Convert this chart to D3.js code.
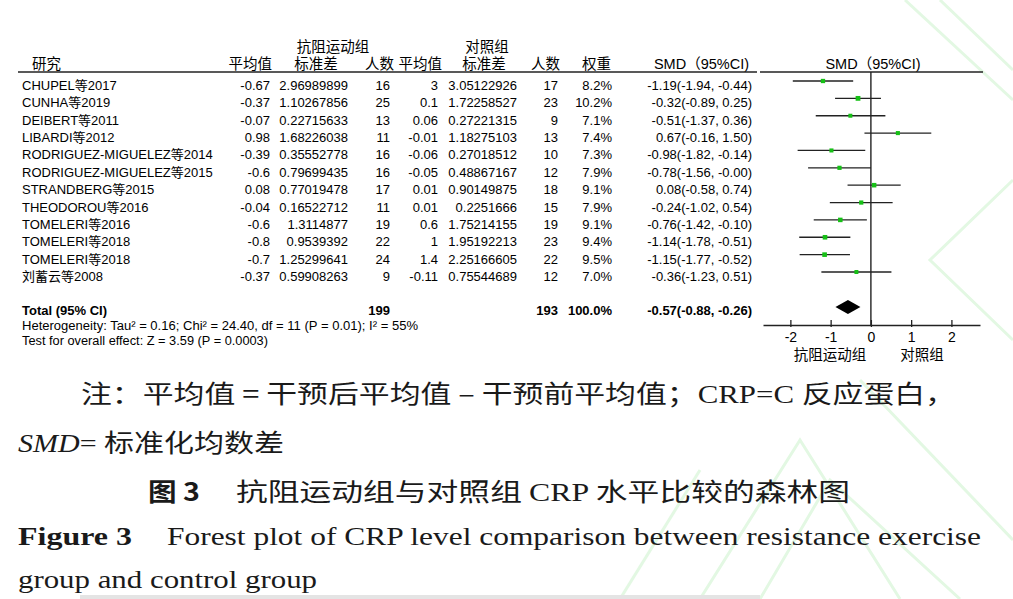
<!DOCTYPE html>
<html>
<head>
<meta charset="utf-8">
<script src="https://cdn.jsdelivr.net/npm/d3@7/dist/d3.min.js"></script>
<style>
body { margin: 0; background: #fff; }
svg { display: block; }
.tbl { font-family: "Liberation Sans", Arial, "Noto Sans CJK SC", sans-serif; font-size: 13px; fill: #000; }
.hd { font-size: 14.5px; }
.cap { font-family: "Liberation Serif", "Times New Roman", "Noto Sans CJK SC", serif; font-size: 25px; fill: #1a1a1a; }
</style>
</head>
<body>
<svg id="chart" width="1013" height="599"></svg>
<script>
// study rows
var studies = ["CHUPEL等2017", "CUNHA等2019", "DEIBERT等2011", "LIBARDI等2012",
  "RODRIGUEZ-MIGUELEZ等2014", "RODRIGUEZ-MIGUELEZ等2015", "STRANDBERG等2015",
  "THEODOROU等2016", "TOMELERI等2016", "TOMELERI等2018", "TOMELERI等2018", "刘蓄云等2008"];
var expMean = [-0.67, -0.37, -0.07, 0.98, -0.39, -0.6, 0.08, -0.04, -0.6, -0.8, -0.7, -0.37];
var expSD = [2.96989899, 1.10267856, 0.22715633, 1.68226038, 0.35552778, 0.79699435, 0.77019478, 0.16522712, 1.3114877, 0.9539392, 1.25299641, 0.59908263];
var expN = [16, 25, 13, 11, 16, 16, 17, 11, 19, 22, 24, 9];
var ctlMean = [3, 0.1, 0.06, -0.01, -0.06, -0.05, 0.01, 0.01, 0.6, 1, 1.4, -0.11];
var ctlSD = [3.05122926, 1.72258527, 0.27221315, 1.18275103, 0.27018512, 0.48867167, 0.90149875, 0.2251666, 1.75214155, 1.95192213, 2.25166605, 0.75544689];
var ctlN = [17, 23, 9, 13, 10, 12, 18, 15, 19, 23, 22, 12];
var weights = [8.2, 10.2, 7.1, 7.4, 7.3, 7.9, 9.1, 7.9, 9.1, 9.4, 9.5, 7.0];
var smd = [-1.19, -0.32, -0.51, 0.67, -0.98, -0.78, 0.08, -0.24, -0.76, -1.14, -1.15, -0.36];
var ciLo = [-1.94, -0.89, -1.37, -0.16, -1.82, -1.56, -0.58, -1.02, -1.42, -1.78, -1.77, -1.23];
var ciHi = [-0.44, 0.25, 0.36, 1.50, -0.14, -0.00, 0.74, 0.54, -0.10, -0.51, -0.52, 0.51];
// pooled
var totalN = [199, 193];
var totalWeight = "100.0%";
var totalSmd = [-0.57, -0.88, -0.26];
var hetText = "Heterogeneity: Tau² = 0.16; Chi² = 24.40, df = 11 (P = 0.01); I² = 55%";
var testText = "Test for overall effect: Z = 3.59 (P = 0.0003)";
var axisTicks = [-2, -1, 0, 1, 2];

var svg = d3.select("#chart");
svg.append("rect").attr("width", 1013).attr("height", 599).attr("fill", "#fff");

// faint watermark strokes
var wm = [
  [[905, 0], [1013, 100]], [[940, 0], [1013, 70]],
  [[1013, 180], [930, 260], [1013, 340]],
  [[700, 599], [800, 440], [900, 599]], [[760, 599], [830, 480], [960, 599]],
  [[860, 380], [1013, 540]], [[620, 599], [700, 470]]
];
svg.selectAll("path.wm").data(wm).enter().append("path")
  .attr("class", "wm")
  .attr("d", d3.line())
  .attr("fill", "none").attr("stroke", "#e3f8e3").attr("stroke-width", 3);

function fmt(v) {
  return (v < 0 || Object.is(v, -0)) ? "-" + Math.abs(v).toFixed(2) : v.toFixed(2);
}

var rowY = d3.scaleLinear().domain([0, 11]).range([81, 272]);
var x = d3.scaleLinear().domain([-2.68, 2.71]).range([763, 980]);

// header
var g = svg.append("g").attr("class", "tbl");
g.append("text").attr("class", "hd").attr("x", 333).attr("y", 52).attr("text-anchor", "middle").text("抗阻运动组");
g.append("text").attr("class", "hd").attr("x", 487).attr("y", 52).attr("text-anchor", "middle").text("对照组");
var heads = [["研究", 32, "start"], ["平均值", 272, "end"], ["标准差", 316, "middle"], ["人数", 394, "end"],
  ["平均值", 442, "end"], ["标准差", 484, "middle"], ["人数", 560, "end"], ["权重", 611, "end"],
  ["SMD（95%CI)", 749, "end"]];
g.selectAll("text.h").data(heads).enter().append("text")
  .attr("class", "hd")
  .attr("x", function(d) { return d[1]; }).attr("y", 69)
  .attr("text-anchor", function(d) { return d[2]; })
  .text(function(d) { return d[0]; });
g.append("text").attr("class", "hd").attr("x", 873).attr("y", 69).attr("text-anchor", "middle").text("SMD（95%CI)");
svg.append("line").attr("x1", 18).attr("x2", 757).attr("y1", 72).attr("y2", 72).attr("stroke", "#222").attr("stroke-width", 1.3);
svg.append("line").attr("x1", 760).attr("x2", 983).attr("y1", 72).attr("y2", 72).attr("stroke", "#222").attr("stroke-width", 1.3);

// rows
var cols = [
  [function(i) { return studies[i]; }, 22, "start"],
  [function(i) { return String(expMean[i]); }, 270, "end"],
  [function(i) { return String(expSD[i]); }, 348, "end"],
  [function(i) { return String(expN[i]); }, 390, "end"],
  [function(i) { return String(ctlMean[i]); }, 438, "end"],
  [function(i) { return String(ctlSD[i]); }, 517, "end"],
  [function(i) { return String(ctlN[i]); }, 558, "end"],
  [function(i) { return weights[i].toFixed(1) + "%"; }, 612, "end"],
  [function(i) { return fmt(smd[i]) + "(" + fmt(ciLo[i]) + ", " + fmt(ciHi[i]) + ")"; }, 752, "end"]
];
var rows = g.selectAll("g.row").data(d3.range(studies.length)).enter().append("g")
  .attr("transform", function(i) { return "translate(0," + (rowY(i) + 9) + ")"; });
cols.forEach(function(c) {
  rows.append("text").attr("x", c[1]).attr("text-anchor", c[2]).text(function(i) { return c[0](i); });
});

// total row
var ty = 315;
var tg = svg.append("g").attr("class", "tbl").style("font-weight", "bold");
tg.append("text").attr("x", 22).attr("y", ty).text("Total (95% CI)");
tg.append("text").attr("x", 390).attr("y", ty).attr("text-anchor", "end").text(totalN[0]);
tg.append("text").attr("x", 558).attr("y", ty).attr("text-anchor", "end").text(totalN[1]);
tg.append("text").attr("x", 612).attr("y", ty).attr("text-anchor", "end").text(totalWeight);
tg.append("text").attr("x", 752).attr("y", ty).attr("text-anchor", "end")
  .text(fmt(totalSmd[0]) + "(" + fmt(totalSmd[1]) + ", " + fmt(totalSmd[2]) + ")");
svg.append("text").attr("class", "tbl").style("font-size", "12px")
  .attr("x", 22).attr("y", 330).attr("textLength", 396).attr("lengthAdjust", "spacingAndGlyphs").text(hetText);
svg.append("text").attr("class", "tbl").style("font-size", "12px")
  .attr("x", 22).attr("y", 345).attr("textLength", 246).attr("lengthAdjust", "spacingAndGlyphs").text(testText);

// forest
var axY = 325;
var fg = svg.append("g");
fg.append("line").attr("x1", x(0)).attr("x2", x(0)).attr("y1", 72).attr("y2", axY).attr("stroke", "#222").attr("stroke-width", 1.4);
fg.selectAll("line.ci").data(d3.range(studies.length)).enter().append("line")
  .attr("x1", function(i) { return x(ciLo[i]); })
  .attr("x2", function(i) { return x(ciHi[i]); })
  .attr("y1", function(i) { return rowY(i); })
  .attr("y2", function(i) { return rowY(i); })
  .attr("stroke", "#222").attr("stroke-width", 1.3);
var half = function(i) { return Math.sqrt(weights[i]) * 0.75; };
fg.selectAll("rect.pt").data(d3.range(studies.length)).enter().append("rect")
  .attr("x", function(i) { return x(smd[i]) - half(i); })
  .attr("y", function(i) { return rowY(i) - half(i); })
  .attr("width", function(i) { return half(i) * 2; })
  .attr("height", function(i) { return half(i) * 2; })
  .attr("fill", "#16c016");
var dy = 307;
fg.append("path")
  .attr("d", "M" + x(totalSmd[1]) + "," + dy + "L" + x(totalSmd[0]) + "," + (dy - 7) +
    "L" + x(totalSmd[2]) + "," + dy + "L" + x(totalSmd[0]) + "," + (dy + 7) + "Z")
  .attr("fill", "#000");

var ax = fg.append("g").attr("transform", "translate(0," + axY + ")")
  .call(d3.axisBottom(x).tickValues(axisTicks).tickSizeOuter(0).tickFormat(function(d) { return String(d); }));
ax.select(".domain").attr("stroke", "#222").attr("stroke-width", 1.3);
ax.selectAll(".tick line").attr("y1", -5).attr("y2", 2).attr("stroke", "#222").attr("stroke-width", 1.3);
ax.selectAll(".tick text").attr("y", 17).attr("dy", null)
  .attr("font-family", "Liberation Sans, Arial, sans-serif").attr("font-size", "14px").attr("fill", "#000");
fg.append("text").attr("class", "tbl hd").attr("x", 830).attr("y", 360).attr("text-anchor", "middle").text("抗阻运动组");
fg.append("text").attr("class", "tbl hd").attr("x", 922).attr("y", 360).attr("text-anchor", "middle").text("对照组");

// caption
var cap = svg.append("g").attr("class", "cap");
var l1 = cap.append("text").attr("x", 81).attr("y", 403).attr("textLength", 875).attr("lengthAdjust", "spacingAndGlyphs");
l1.append("tspan").style("font-family", "Noto Sans CJK SC").text("注：平均值 = 干预后平均值 – 干预前平均值；");
l1.append("tspan").text("CRP=C ");
l1.append("tspan").style("font-family", "Noto Sans CJK SC").text("反应蛋白，");
var l2 = cap.append("text").attr("x", 18).attr("y", 452).attr("textLength", 266).attr("lengthAdjust", "spacingAndGlyphs");
l2.append("tspan").style("font-style", "italic").text("SMD");
l2.append("tspan").text("= ");
l2.append("tspan").style("font-family", "Noto Sans CJK SC").text("标准化均数差");
cap.append("text").attr("x", 148).attr("y", 501).attr("textLength", 52).attr("lengthAdjust", "spacingAndGlyphs")
  .style("font-weight", "bold").style("font-family", "Noto Sans CJK SC").text("图 3");
var l3 = cap.append("text").attr("x", 236).attr("y", 501).attr("textLength", 614).attr("lengthAdjust", "spacingAndGlyphs");
l3.append("tspan").style("font-family", "Noto Sans CJK SC").text("抗阻运动组与对照组 ");
l3.append("tspan").text("CRP ");
l3.append("tspan").style("font-family", "Noto Sans CJK SC").text("水平比较的森林图");
cap.append("text").attr("x", 18).attr("y", 545).attr("textLength", 114).attr("lengthAdjust", "spacingAndGlyphs")
  .style("font-weight", "bold").text("Figure 3");
cap.append("text").attr("x", 167).attr("y", 545).attr("textLength", 814).attr("lengthAdjust", "spacingAndGlyphs")
  .text("Forest plot of CRP level comparison between resistance exercise");
cap.append("text").attr("x", 18).attr("y", 588).attr("textLength", 299).attr("lengthAdjust", "spacingAndGlyphs")
  .text("group and control group");

svg.append("rect").attr("x", 80).attr("y", 595).attr("width", 680).attr("height", 4).attr("fill", "#e4e4e4");
</script>
</body>
</html>
